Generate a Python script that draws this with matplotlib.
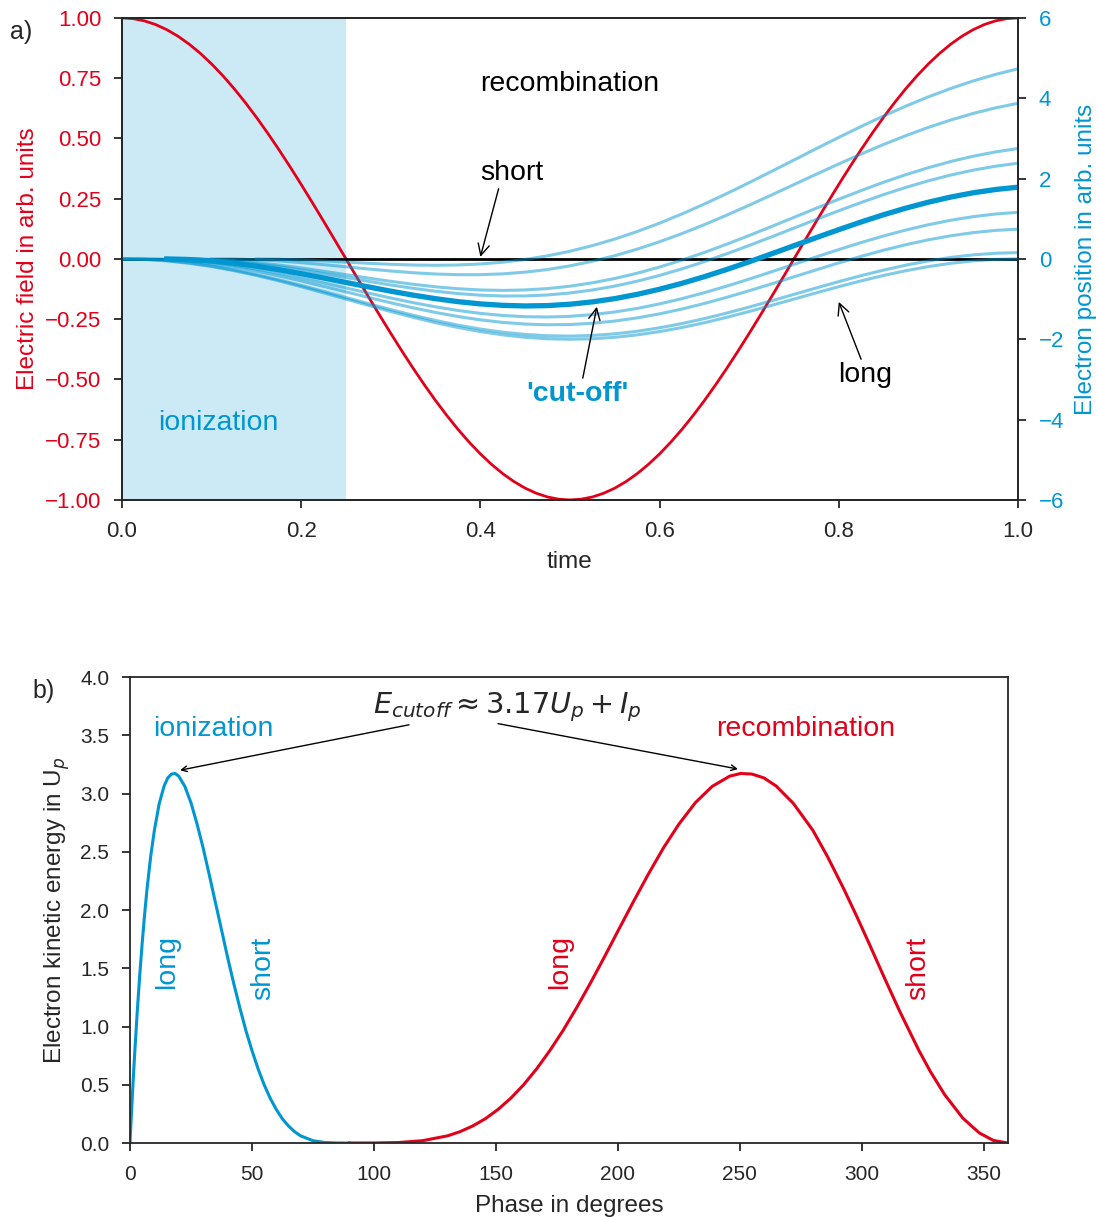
import numpy as np
import matplotlib
matplotlib.use("Agg")
import matplotlib.pyplot as plt

plt.rcParams['font.family'] = ['Liberation Sans', 'DejaVu Sans']
plt.rcParams['mathtext.fontset'] = 'dejavusans'

RED = '#e2001a'
BLUE = '#0096d1'
DARK = '#262626'
nan = np.nan

# ---- panel a: field (fine grid) ----
t_field = [0.0000, 0.0125, 0.0250, 0.0375, 0.0500, 0.0625, 0.0750, 0.0875, 0.1000, 0.1125,
           0.1250, 0.1375, 0.1500, 0.1625, 0.1750, 0.1875, 0.2000, 0.2125, 0.2250, 0.2375,
           0.2500, 0.2625, 0.2750, 0.2875, 0.3000, 0.3125, 0.3250, 0.3375, 0.3500, 0.3625,
           0.3750, 0.3875, 0.4000, 0.4125, 0.4250, 0.4375, 0.4500, 0.4625, 0.4750, 0.4875,
           0.5000, 0.5125, 0.5250, 0.5375, 0.5500, 0.5625, 0.5750, 0.5875, 0.6000, 0.6125,
           0.6250, 0.6375, 0.6500, 0.6625, 0.6750, 0.6875, 0.7000, 0.7125, 0.7250, 0.7375,
           0.7500, 0.7625, 0.7750, 0.7875, 0.8000, 0.8125, 0.8250, 0.8375, 0.8500, 0.8625,
           0.8750, 0.8875, 0.9000, 0.9125, 0.9250, 0.9375, 0.9500, 0.9625, 0.9750, 0.9875, 1.0000]
field = [1.0000, 0.9969, 0.9877, 0.9724, 0.9511, 0.9239, 0.8910, 0.8526, 0.8090, 0.7604,
         0.7071, 0.6494, 0.5878, 0.5225, 0.4540, 0.3827, 0.3090, 0.2334, 0.1564, 0.0785,
         0.0000, -0.0785, -0.1564, -0.2334, -0.3090, -0.3827, -0.4540, -0.5225, -0.5878, -0.6494,
         -0.7071, -0.7604, -0.8090, -0.8526, -0.8910, -0.9239, -0.9511, -0.9724, -0.9877, -0.9969,
         -1.0000, -0.9969, -0.9877, -0.9724, -0.9511, -0.9239, -0.8910, -0.8526, -0.8090, -0.7604,
         -0.7071, -0.6494, -0.5878, -0.5225, -0.4540, -0.3827, -0.3090, -0.2334, -0.1564, -0.0785,
         0.0000, 0.0785, 0.1564, 0.2334, 0.3090, 0.3827, 0.4540, 0.5225, 0.5878, 0.6494,
         0.7071, 0.7604, 0.8090, 0.8526, 0.8910, 0.9239, 0.9511, 0.9724, 0.9877, 0.9969, 1.0000]

# ---- panel a: electron trajectories ----
t = [0.000, 0.025, 0.050, 0.075, 0.100, 0.125, 0.150, 0.175, 0.200, 0.225,
     0.250, 0.275, 0.300, 0.325, 0.350, 0.375, 0.400, 0.425, 0.450, 0.475,
     0.500, 0.525, 0.550, 0.575, 0.600, 0.625, 0.650, 0.675, 0.700, 0.725,
     0.750, 0.775, 0.800, 0.825, 0.850, 0.875, 0.900, 0.925, 0.950, 0.975, 1.000]
traj_a = [0, -0.012, -0.049, -0.109, -0.191, -0.293, -0.412, -0.546, -0.691, -0.844,
          -1.000, -1.156, -1.309, -1.454, -1.588, -1.707, -1.809, -1.891, -1.951, -1.988,
          -2.000, -1.988, -1.951, -1.891, -1.809, -1.707, -1.588, -1.454, -1.309, -1.156,
          -1.000, -0.844, -0.691, -0.546, -0.412, -0.293, -0.191, -0.109, -0.049, -0.012, 0.000]
traj_b = [0, -0.009, -0.041, -0.098, -0.176, -0.274, -0.389, -0.519, -0.660, -0.808,
          -0.961, -1.113, -1.262, -1.403, -1.533, -1.648, -1.746, -1.824, -1.880, -1.913,
          -1.921, -1.905, -1.865, -1.801, -1.715, -1.609, -1.486, -1.348, -1.199, -1.042,
          -0.882, -0.722, -0.565, -0.416, -0.278, -0.155, -0.049, 0.037, 0.101, 0.141, 0.158]
traj_c = [0, -0.001, -0.019, -0.060, -0.123, -0.207, -0.307, -0.422, -0.548, -0.682,
          -0.820, -0.958, -1.092, -1.218, -1.333, -1.434, -1.517, -1.580, -1.622, -1.639,
          -1.633, -1.602, -1.547, -1.468, -1.367, -1.247, -1.109, -0.956, -0.792, -0.621,
          -0.446, -0.271, -0.099, 0.064, 0.217, 0.355, 0.475, 0.576, 0.655, 0.710, 0.741]
traj_d = [0, 0, -0.008, -0.038, -0.091, -0.163, -0.253, -0.358, -0.473, -0.596,
          -0.723, -0.850, -0.973, -1.089, -1.193, -1.283, -1.356, -1.408, -1.439, -1.446,
          -1.429, -1.387, -1.321, -1.232, -1.120, -0.989, -0.840, -0.677, -0.502, -0.320,
          -0.135, 0.051, 0.233, 0.408, 0.571, 0.720, 0.851, 0.963, 1.052, 1.118, 1.160]
traj_e = [nan, nan, 0.000, -0.002, -0.023, -0.063, -0.121, -0.193, -0.277, -0.368,
          -0.463, -0.558, -0.649, -0.732, -0.805, -0.863, -0.903, -0.923, -0.922, -0.897,
          -0.848, -0.774, -0.676, -0.555, -0.411, -0.248, -0.067, 0.128, 0.335, 0.549,
          0.767, 0.985, 1.199, 1.405, 1.601, 1.781, 1.945, 2.088, 2.210, 2.308, 2.382]
traj_f = [nan, nan, nan, 0.000, -0.011, -0.041, -0.089, -0.152, -0.225, -0.307,
          -0.392, -0.477, -0.558, -0.632, -0.694, -0.742, -0.773, -0.784, -0.772, -0.738,
          -0.679, -0.595, -0.487, -0.356, -0.202, -0.029, 0.161, 0.367, 0.583, 0.807,
          1.034, 1.262, 1.486, 1.702, 1.908, 2.098, 2.271, 2.425, 2.556, 2.664, 2.748]
traj_g = [nan, nan, nan, nan, 0.000, -0.002, -0.019, -0.050, -0.093, -0.143,
          -0.197, -0.251, -0.301, -0.344, -0.376, -0.392, -0.392, -0.372, -0.329, -0.264,
          -0.173, -0.059, 0.080, 0.243, 0.427, 0.631, 0.853, 1.089, 1.337, 1.592,
          1.851, 2.109, 2.364, 2.612, 2.848, 3.070, 3.274, 3.458, 3.621, 3.760, 3.874]
traj_h = [nan, nan, nan, nan, nan, nan, 0.000, -0.007, -0.025, -0.050,
          -0.079, -0.109, -0.134, -0.152, -0.159, -0.151, -0.126, -0.081, -0.014, 0.077,
          0.191, 0.331, 0.494, 0.682, 0.891, 1.120, 1.366, 1.627, 1.899, 2.179,
          2.462, 2.746, 3.025, 3.297, 3.558, 3.805, 4.034, 4.243, 4.430, 4.594, 4.733]
traj_cutoff = [nan, nan, 0.000, -0.015, -0.051, -0.107, -0.181, -0.269, -0.368, -0.475,
               -0.586, -0.696, -0.803, -0.902, -0.990, -1.064, -1.120, -1.156, -1.171, -1.162,
               -1.128, -1.070, -0.988, -0.882, -0.754, -0.607, -0.442, -0.262, -0.072, 0.127,
               0.329, 0.531, 0.729, 0.920, 1.100, 1.265, 1.412, 1.540, 1.646, 1.728, 1.786]

# ---- panel b: kinetic energy vs ionization / recombination phase ----
phase_ion = [0, 0.05, 0.2, 0.5, 1, 1.5, 2, 3, 4, 5, 6, 7, 8.5, 10, 12, 14, 15.5, 17, 18.5,
             20, 22.5, 25, 27.5, 30, 32.5, 35, 37.5, 40, 42.5, 45, 47.5, 50, 52.5, 55,
             57.5, 60, 62.5, 65, 67.5, 70, 75, 80, 85, 90]
energy_ion = [0, 0.022, 0.087, 0.213, 0.416, 0.609, 0.793, 1.135, 1.442, 1.715, 1.963, 2.184,
              2.462, 2.684, 2.915, 3.065, 3.134, 3.167, 3.172, 3.149, 3.061, 2.921, 2.738,
              2.532, 2.303, 2.067, 1.833, 1.596, 1.373, 1.164, 0.967, 0.795, 0.638, 0.500,
              0.384, 0.288, 0.207, 0.146, 0.097, 0.061, 0.020, 0.004, 0.0003, 0]
phase_rec = [90, 100, 110, 120, 130.1, 135.3, 140.5, 145.6, 150.9, 156.1, 161.4, 166.8,
             172.2, 177.6, 183.2, 188.8, 194.5, 200.4, 206.3, 212.4, 218.7, 225.1, 231.8,
             238.7, 245.9, 250.4, 255, 259.9, 264.9, 272, 280, 285.9, 292.6, 297.6, 303,
             308.8, 315.5, 323.5, 328.3, 334, 341.5, 348.2, 354, 360]
energy_rec = [0, 0.0003, 0.004, 0.020, 0.061, 0.097, 0.146, 0.207, 0.288, 0.384, 0.500, 0.638,
              0.795, 0.967, 1.164, 1.373, 1.596, 1.833, 2.067, 2.303, 2.532, 2.738, 2.921,
              3.061, 3.149, 3.172, 3.167, 3.134, 3.065, 2.915, 2.684, 2.462, 2.184, 1.963,
              1.715, 1.442, 1.135, 0.793, 0.609, 0.416, 0.213, 0.087, 0.022, 0]

fig = plt.figure(figsize=(10.96, 12.17), dpi=100)

ax1 = fig.add_axes([0.1113, 0.5892, 0.8175, 0.3961])
ax1.axvspan(0, 0.25, color=BLUE, alpha=0.2, lw=0)
ax1.plot(t_field, field, color=RED, lw=2)
ax1.axhline(0, color='black', lw=2)
ax1.set_xlim(0, 1)
ax1.set_ylim(-1, 1)
ax1.set_yticks([1.0, 0.75, 0.5, 0.25, 0.0, -0.25, -0.5, -0.75, -1.0])
ax1.set_yticklabels(['1.00', '0.75', '0.50', '0.25', '0.00', '\u22120.25', '\u22120.50',
                     '\u22120.75', '\u22121.00'])
ax1.set_xticks([0, 0.2, 0.4, 0.6, 0.8, 1.0])
ax1.set_xticklabels(['0.0', '0.2', '0.4', '0.6', '0.8', '1.0'])
ax1.set_xlabel('time', fontsize=17.5, color=DARK, labelpad=6)
ax1.set_ylabel('Electric field in arb. units', fontsize=17.5, color=RED, labelpad=4)

ax2 = ax1.twinx()
for tr in [traj_a, traj_b, traj_c, traj_d, traj_e, traj_f, traj_g, traj_h]:
    ax2.plot(t, tr, color=BLUE, alpha=0.5, lw=2.2)
ax2.plot(t, traj_cutoff, color=BLUE, lw=3.8)
ax2.set_ylim(-6, 6)
ax2.set_yticks([6, 4, 2, 0, -2, -4, -6])
ax2.set_yticklabels(['6', '4', '2', '0', '\u22122', '\u22124', '\u22126'])
ax2.set_ylabel('Electron position in arb. units', fontsize=17.5, color=BLUE, labelpad=8)

for ax in (ax1, ax2):
    for s in ax.spines.values():
        s.set_color(DARK)
        s.set_linewidth(1.3)
    ax.tick_params(direction='out', length=6, width=1.3, color=DARK, labelsize=16)
    ax.tick_params(axis='x', pad=9.5, labelcolor=DARK)
    ax.tick_params(axis='y', pad=9)
ax1.tick_params(axis='y', labelcolor=RED)
ax2.tick_params(axis='y', labelcolor=BLUE)

arrow = dict(arrowstyle='->', color='black', lw=1, shrinkA=0, shrinkB=0)
ax2.text(0.4, 4.36, 'recombination', fontsize=20.5, color='black', va='center', ha='left')
ax2.annotate('short', xy=(0.40, 0.05), xytext=(0.40, 2.14), fontsize=20.5, va='center', ha='left',
             arrowprops=dict(arrow, relpos=(0.3, 0)))
ax2.annotate("'cut-off'", xy=(0.530, -1.19), xytext=(0.508, -3.36), fontsize=20.5, va='center',
             ha='center', color=BLUE, fontweight='bold',
             arrowprops=dict(arrow, relpos=(0.55, 1)))
ax2.annotate('long', xy=(0.800, -1.07), xytext=(0.799, -2.89), fontsize=20.5, va='center', ha='left',
             arrowprops=dict(arrow, relpos=(0.45, 1)))
ax2.text(0.04, -4.08, 'ionization', fontsize=20.5, color=BLUE, va='center', ha='left')

fig.text(0.009, 0.974, 'a)', fontsize=18, color=DARK, va='center')

# ---- panel b ----
ax3 = fig.add_axes([0.1186, 0.0608, 0.8011, 0.3829])
ax3.plot(phase_ion, energy_ion, color=BLUE, lw=2.2)
ax3.plot(phase_rec, energy_rec, color=RED, lw=2.2)
ax3.set_xlim(0, 360)
ax3.set_ylim(0, 4)
ax3.set_xticks([0, 50, 100, 150, 200, 250, 300, 350])
ax3.set_yticks([0, 0.5, 1.0, 1.5, 2.0, 2.5, 3.0, 3.5, 4.0])
ax3.set_yticklabels(['0.0', '0.5', '1.0', '1.5', '2.0', '2.5', '3.0', '3.5', '4.0'])
ax3.set_xlabel('Phase in degrees', fontsize=17.5, color=DARK, labelpad=8)
ax3.set_ylabel('Electron kinetic energy in U$_p$', fontsize=17.5, color=DARK, labelpad=6)
ax3.tick_params(direction='out', length=6, width=1.3, colors=DARK, labelsize=15)
ax3.tick_params(axis='x', pad=10)
ax3.tick_params(axis='y', pad=9)
for s in ax3.spines.values():
    s.set_color(DARK)
    s.set_linewidth(1.3)

ax3.text(9.4, 3.555, 'ionization', fontsize=20.5, color=BLUE, va='center', ha='left')
ax3.text(240.3, 3.555, 'recombination', fontsize=20.5, color=RED, va='center', ha='left')
ax3.text(99.6, 3.745, r'$E_{cutoff} \approx 3.17U_p + I_p$', fontsize=20.7, color=DARK,
         va='center', ha='left')
ax3.annotate('', xy=(20.5, 3.20), xytext=(114.4, 3.59), arrowprops=arrow)
ax3.annotate('', xy=(249.3, 3.21), xytext=(150.9, 3.60), arrowprops=arrow)
ax3.text(15.2, 1.55, 'long', fontsize=20.5, color=BLUE, rotation=90, va='center', ha='center')
ax3.text(54.5, 1.50, 'short', fontsize=20.5, color=BLUE, rotation=90, va='center', ha='center')
ax3.text(176.3, 1.55, 'long', fontsize=20.5, color=RED, rotation=90, va='center', ha='center')
ax3.text(323.0, 1.50, 'short', fontsize=20.5, color=RED, rotation=90, va='center', ha='center')

fig.text(0.030, 0.432, 'b)', fontsize=18, color=DARK, va='center')

fig.savefig('out.png', dpi=100)
